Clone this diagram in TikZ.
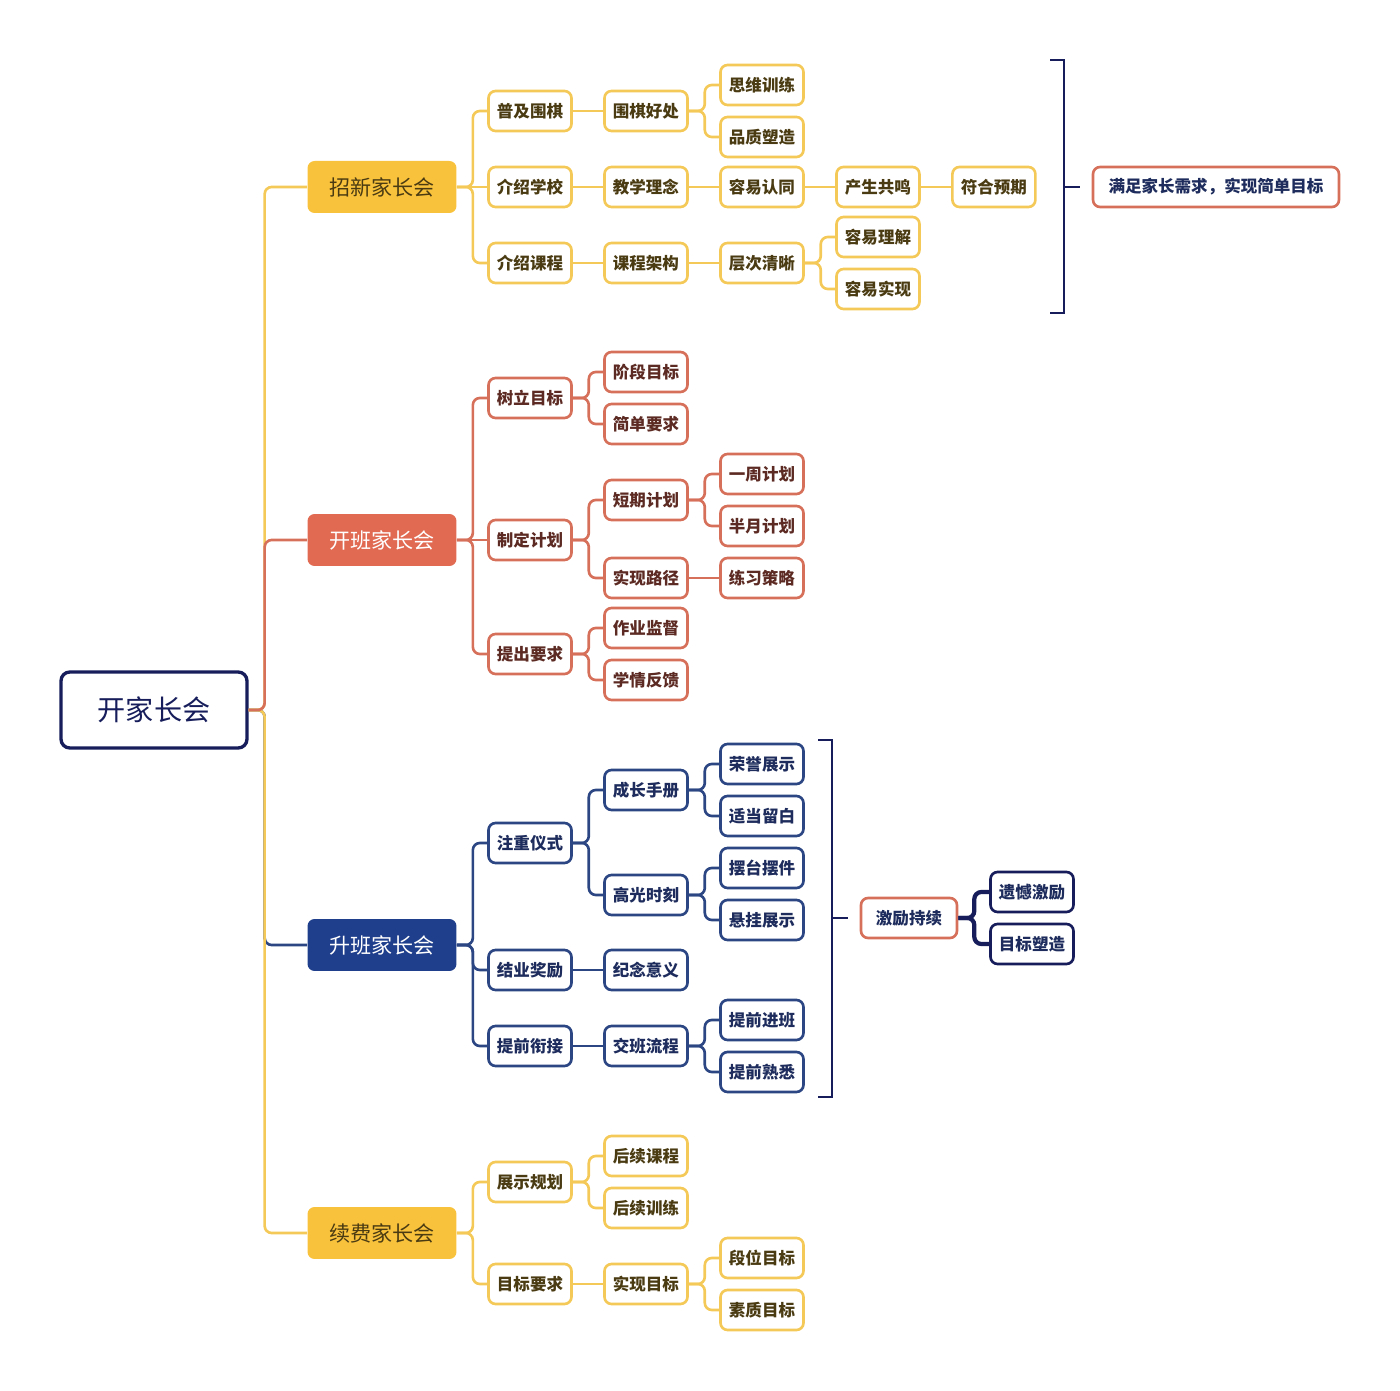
\documentclass[tikz,border=0pt]{standalone}
\usepackage{fontspec}
\setmainfont{Noto Sans CJK SC}
\usetikzlibrary{positioning}

\definecolor{ygold}{HTML}{F9C23C}
\definecolor{yline}{HTML}{F5C958}
\definecolor{ytext}{HTML}{4A3B12}
\definecolor{rfill}{HTML}{E06A52}
\definecolor{rline}{HTML}{D6705A}
\definecolor{rtext}{HTML}{5C2A22}
\definecolor{nfill}{HTML}{1F3F8C}
\definecolor{nline}{HTML}{2B4683}
\definecolor{ntext}{HTML}{1D2C5C}
\definecolor{ndark}{HTML}{161D5A}

\tikzset{
  box/.style={rectangle, rounded corners=4pt, draw, line width=1.5pt, fill=white,
    minimum width=1.66cm, minimum height=0.8cm, inner sep=1pt,
    font=\fontsize{9.4pt}{11pt}\selectfont\bfseries},
  yleaf/.style={box, draw=yline, text=ytext},
  rleaf/.style={box, draw=rline, text=rtext},
  nleaf/.style={box, draw=nline, text=ntext},
  meet/.style={rectangle, rounded corners=4pt, minimum width=2.98cm, minimum height=1.04cm,
    font=\fontsize{12pt}{14pt}\selectfont},
  elbow/.style={to path={-- ([xshift=0.32cm]\tikztostart.east) |- (\tikztotarget.west)}},
  yconn/.style={draw=yline, line width=1.5pt, rounded corners=4pt},
  rconn/.style={draw=rline, line width=1.5pt, rounded corners=4pt},
  nconn/.style={draw=nline, line width=1.5pt, rounded corners=4pt},
}

\begin{document}
\begin{tikzpicture}[x=0.02cm, y=-0.02cm, node distance=2.32cm]
    \useasboundingbox (0,0) rectangle (1400,1391);

    % root
    \node[draw=ndark, line width=1.9pt, rounded corners=5pt, minimum width=3.72cm, minimum height=1.52cm,
      text=ndark, font=\fontsize{16pt}{18pt}\selectfont] (root) at (154,710) {开家长会};

    % 招新
    \node[meet, fill=ygold, text=ytext] (zx) at (382,187) {招新家长会};
    \node[yleaf] (pj) at (530,111) {普及围棋};
    \node[yleaf] (hc) [right of=pj] {围棋好处};
    \node[yleaf] (sw) at (762,85) {思维训练};
    \node[yleaf] (pz) at (762,137) {品质塑造};
    \node[yleaf] (js) at (530,187) {介绍学校};
    \node[yleaf] (ln) [right of=js] {教学理念};
    \node[yleaf] (rt) [right of=ln] {容易认同};
    \node[yleaf] (gm) [right of=rt] {产生共鸣};
    \node[yleaf] (yq) [right of=gm] {符合预期};
    \node[yleaf] (kc) at (530,263) {介绍课程};
    \node[yleaf] (jg) [right of=kc] {课程架构};
    \node[yleaf] (cc) [right of=jg] {层次清晰};
    \node[yleaf] (lj) at (878,237) {容易理解};
    \node[yleaf] (sx) at (878,289) {容易实现};
    \node[box, draw=rline, text=ntext, minimum width=4.92cm] (mz) at (1216,187) {满足家长需求，实现简单目标};

    % 开班
    \node[meet, fill=rfill, text=white] (kb) at (382,540) {开班家长会};
    \node[rleaf] (sl) at (530,398) {树立目标};
    \node[rleaf] (jd) at (646,372) {阶段目标};
    \node[rleaf] (jy) at (646,424) {简单要求};
    \node[rleaf] (zd) at (530,540) {制定计划};
    \node[rleaf] (dq) at (646,500) {短期计划};
    \node[rleaf] (yz) at (762,474) {一周计划};
    \node[rleaf] (by) at (762,526) {半月计划};
    \node[rleaf] (lu) at (646,578) {实现路径};
    \node[rleaf] (cl) [right of=lu] {练习策略};
    \node[rleaf] (tc) at (530,654) {提出要求};
    \node[rleaf] (zy) at (646,628) {作业监督};
    \node[rleaf] (xq) at (646,680) {学情反馈};

    % 升班
    \node[meet, fill=nfill, text=white] (sb) at (382,945) {升班家长会};
    \node[nleaf] (yc) at (530,843) {注重仪式};
    \node[nleaf] (sc) at (646,790) {成长手册};
    \node[nleaf] (ry) at (762,764) {荣誉展示};
    \node[nleaf] (lb) at (762,816) {适当留白};
    \node[nleaf] (gg) at (646,895) {高光时刻};
    \node[nleaf] (bt) at (762,868) {摆台摆件};
    \node[nleaf] (xg) at (762,920) {悬挂展示};
    \node[nleaf] (jl) at (530,970) {结业奖励};
    \node[nleaf] (jn) [right of=jl] {纪念意义};
    \node[nleaf] (xj) at (530,1046) {提前衔接};
    \node[nleaf] (jb) [right of=xj] {交班流程};
    \node[nleaf] (jq) at (762,1020) {提前进班};
    \node[nleaf] (sq) at (762,1072) {提前熟悉};
    \node[box, draw=rline, text=ntext, minimum width=1.92cm] (jc) at (909,918) {激励持续};
    \node[box, draw=ndark, text=ntext] (yh) at (1032,892) {遗憾激励};
    \node[box, draw=ndark, text=ntext] (ms) at (1032,944) {目标塑造};

    % 续费
    \node[meet, fill=ygold, text=ytext] (xf) at (382,1233) {续费家长会};
    \node[yleaf] (zs) at (530,1182) {展示规划};
    \node[yleaf] (hk) at (646,1156) {后续课程};
    \node[yleaf] (hx) at (646,1208) {后续训练};
    \node[yleaf] (mb) at (530,1284) {目标要求};
    \node[yleaf] (sm) [right of=mb] {实现目标};
    \node[yleaf] (dw) at (762,1258) {段位目标};
    \node[yleaf] (su) at (762,1310) {素质目标};

    % trunk
    \path[nconn] (root) edge[elbow] (sb);
    \path[yconn] (root) edge[elbow] (xf)
                 (root) edge[elbow] (zx);
    \path[rconn] (root) edge[elbow] (kb);

    % branches
    \path[yconn]
    (zx) edge[elbow] (pj)
         edge (js)
         edge[elbow] (kc)
    (pj) edge (hc)
    (hc) edge[elbow] (sw)
         edge[elbow] (pz)
    (js) edge (ln)
    (ln) edge (rt)
    (rt) edge (gm)
    (gm) edge (yq)
    (kc) edge (jg)
    (jg) edge (cc)
    (cc) edge[elbow] (lj)
         edge[elbow] (sx)
    (xf) edge[elbow] (zs)
         edge[elbow] (mb)
    (zs) edge[elbow] (hk)
         edge[elbow] (hx)
    (mb) edge (sm)
    (sm) edge[elbow] (dw)
         edge[elbow] (su);

    \path[rconn]
    (kb) edge[elbow] (sl)
         edge (zd)
         edge[elbow] (tc)
    (sl) edge[elbow] (jd)
         edge[elbow] (jy)
    (zd) edge[elbow] (dq)
         edge[elbow] (lu)
    (dq) edge[elbow] (yz)
         edge[elbow] (by)
    (lu) edge (cl)
    (tc) edge[elbow] (zy)
         edge[elbow] (xq);

    \path[nconn]
    (sb) edge[elbow] (yc)
         edge[elbow] (jl)
         edge[elbow] (xj)
    (yc) edge[elbow] (sc)
         edge[elbow] (gg)
    (sc) edge[elbow] (ry)
         edge[elbow] (lb)
    (gg) edge[elbow] (bt)
         edge[elbow] (xg)
    (jl) edge (jn)
    (xj) edge (jb)
    (jb) edge[elbow] (jq)
         edge[elbow] (sq);

    \path[draw=ndark, line width=2.4pt, rounded corners=4pt]
    (jc) edge[elbow] (yh)
         edge[elbow] (ms);

    % brackets
    \draw[ndark, line width=1.5pt] (1050,60) -- (1064,60) -- (1064,313) -- (1050,313);
    \draw[ndark, line width=1.5pt] (1064,187) -- (1080,187);
    \draw[ndark, line width=1.5pt] (818,740) -- (832,740) -- (832,1097) -- (818,1097);
    \draw[ndark, line width=1.5pt] (832,918) -- (848,918);
\end{tikzpicture}
\end{document}
